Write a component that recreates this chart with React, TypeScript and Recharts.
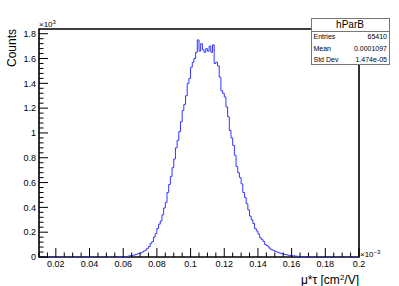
import React from "react";
import { LineChart, Line, XAxis, YAxis, ReferenceArea } from "recharts";

// hParB histogram: 190 bins of width 0.001 (x10^-3) from 0.01 to 0.2
const binStart = 0.01;
const binWidth = 0.001;
const counts: number[] = [
  // 0.010 - 0.054
  0, 0, 0, 0, 0, 0, 0, 0, 0, 0,
  0, 0, 0, 0, 0, 0, 0, 0, 0, 0,
  0, 0, 0, 0, 0, 0, 0, 0, 0, 0,
  0, 0, 0, 0, 0, 0, 0, 0, 0, 0,
  0, 0, 0, 0, 0,
  // 0.055 - 0.059
  1, 0, 2, 1, 3,
  // 0.060 - 0.069
  2, 4, 5, 8, 10, 13, 15, 20, 24, 30,
  // 0.070 - 0.079
  32, 40, 48, 55, 70, 85, 110, 125, 160, 190,
  // 0.080 - 0.089
  230, 265, 290, 340, 395, 440, 520, 585, 650, 720,
  // 0.090 - 0.099
  790, 880, 940, 1010, 1090, 1180, 1230, 1300, 1400, 1440,
  // 0.100 - 0.109
  1530, 1570, 1600, 1650, 1750, 1660, 1720, 1670, 1650, 1680,
  // 0.110 - 0.119
  1660, 1700, 1650, 1710, 1560, 1570, 1540, 1450, 1340, 1320,
  // 0.120 - 0.129
  1290, 1210, 1130, 1020, 960, 900, 820, 730, 680, 640,
  // 0.130 - 0.139
  590, 520, 480, 430, 380, 330, 300, 270, 230, 210,
  // 0.140 - 0.149
  185, 155, 140, 125, 100, 92, 80, 65, 58, 52,
  // 0.150 - 0.159
  44, 40, 35, 30, 26, 22, 20, 17, 14, 12,
  // 0.160 - 0.169
  10, 9, 7, 6, 5, 4, 3, 3, 2, 2,
  // 0.170 - 0.179
  1, 1, 0, 1, 0, 0, 1, 0, 0, 0,
  // 0.180 - 0.199
  0, 0, 0, 0, 0, 0, 0, 0, 0, 0,
  0, 0, 0, 0, 0, 0, 0, 0, 0, 0,
];

const xMajorTicks = [0.02, 0.04, 0.06, 0.08, 0.1, 0.12, 0.14, 0.16, 0.18, 0.2];
const yMajorTicks = [0, 200, 400, 600, 800, 1000, 1200, 1400, 1600, 1800];

const stats = [
  { label: "Entries", value: "65410" },
  { label: "Mean", value: "0.0001097" },
  { label: "Std Dev", value: "1.474e-05" },
];

const data = counts
  .map((c, i) => ({ x: +(binStart + i * binWidth).toFixed(3), c }))
  .concat([{ x: 0.2, c: counts[counts.length - 1] }]);

const xTicks: number[] = [];
for (let k = 2; k <= 40; k++) xTicks.push(+(k * 0.005).toFixed(3));
const yTicks: number[] = [];
for (let v = 0; v <= 1800; v += 40) yTicks.push(v);

const FONT = "'Liberation Sans', Arial, Helvetica, sans-serif";

const XTick = (props: any) => {
  const { x, y, payload } = props;
  const v = payload.value;
  const major = Math.round(v * 1000) % 20 === 0;
  return (
    <g>
      <line x1={x} x2={x} y1={y} y2={y - (major ? 9 : 4.5)} stroke="#000" />
      {major && (
        <text x={x} y={y + 10} textAnchor="middle" fontSize={9} fontFamily={FONT} fill="#000">
          {String(+v.toFixed(2))}
        </text>
      )}
    </g>
  );
};

const YTick = (props: any) => {
  const { x, y, payload } = props;
  const v = payload.value;
  const major = v % 200 === 0;
  return (
    <g>
      <line x1={x} x2={x + (major ? 9 : 4.5)} y1={y} y2={y} stroke="#000" />
      {major && (
        <text x={x - 3} y={y + 3.3} textAnchor="end" fontSize={9} fontFamily={FONT} fill="#000">
          {String(v / 1000)}
        </text>
      )}
    </g>
  );
};

export default function App() {
  return (
    <div style={{ position: "absolute", left: 0, top: 0, width: 399, height: 286, background: "#fff" }}>
      <LineChart width={399} height={286} data={data} margin={{ top: 29, right: 40, bottom: 0, left: 0 }}>
        <XAxis
          dataKey="x"
          type="number"
          domain={[0.01, 0.2]}
          allowDataOverflow
          ticks={xTicks}
          interval={0}
          tick={<XTick />}
          tickSize={0}
          tickMargin={0}
          axisLine={false}
          height={29}
        />
        <YAxis
          type="number"
          domain={[0, 1838]}
          allowDataOverflow
          ticks={yTicks}
          interval={0}
          tick={<YTick />}
          tickSize={0}
          tickMargin={0}
          axisLine={false}
          width={39}
        />
        <ReferenceArea x1={0.01} x2={0.2} y1={0} y2={1838} fill="none" stroke="#000" strokeWidth={1.6} />
        <Line
          type="stepAfter"
          dataKey="c"
          stroke="#3535ff"
          strokeWidth={1}
          dot={false}
          activeDot={false}
          isAnimationActive={false}
        />
      </LineChart>
      <svg
        width={399}
        height={286}
        style={{ position: "absolute", left: 0, top: 0, pointerEvents: "none" }}
        fontFamily={FONT}
      >
        <text x={12} y={29} transform="rotate(-90 12 29)" dy={4} textAnchor="end" fontSize={12} fill="#000">
          Counts
        </text>
        <text x={39} y={27} fontSize={8} fill="#000">
          ×10<tspan dy={-3} fontSize={6}>3</tspan>
        </text>
        <text x={360} y={257} fontSize={8} fill="#000">
          ×10<tspan dy={-3} fontSize={6}>−3</tspan>
        </text>
        <text x={359} y={284} textAnchor="end" fontSize={12} fill="#000">
          μ*τ [cm<tspan dy={-4} fontSize={8}>2</tspan>
          <tspan dy={4}>/V]</tspan>
        </text>
        <rect x={311.5} y={18.5} width={78} height={46} fill="#fff" stroke="#777" />
        <line x1={311.5} x2={389.5} y1={31.5} y2={31.5} stroke="#777" />
        <text x={350} y={28} textAnchor="middle" fontSize={10} fill="#000">
          hParB
        </text>
        {stats.map((s, i) => (
          <g key={s.label}>
            <text x={313.5} y={39 + i * 11.5} fontSize={7} fill="#000">
              {s.label}
            </text>
            <text x={387} y={39 + i * 11.5} textAnchor="end" fontSize={7} fill="#000">
              {s.value}
            </text>
          </g>
        ))}
      </svg>
    </div>
  );
}
